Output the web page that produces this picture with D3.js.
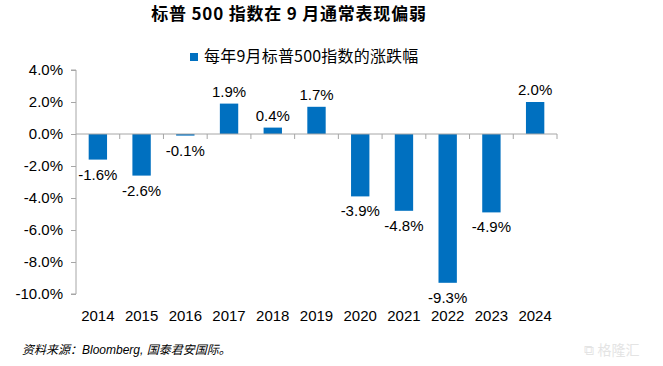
<!DOCTYPE html>
<html>
<head>
<meta charset="utf-8">
<script src="https://cdn.jsdelivr.net/npm/d3@7"></script>
<style>
  body { margin: 0; background: #fff; }
  svg { display: block; font-family: "Liberation Sans", Arial, sans-serif; }
</style>
</head>
<body>
<svg width="663" height="366"></svg>
<script>
// Data
const years = ['2014', '2015', '2016', '2017', '2018', '2019', '2020', '2021', '2022', '2023', '2024'];
const changes = [-1.6, -2.6, -0.1, 1.9, 0.4, 1.7, -3.9, -4.8, -9.3, -4.9, 2.0];
const yTicks = [4, 2, 0, -2, -4, -6, -8, -10];

const svg = d3.select('svg');
const barColor = '#0070C0';
const cjk = '"Noto Sans CJK SC", sans-serif';

const x = d3.scaleBand().domain(years).range([76, 557]).paddingInner(0.58).paddingOuter(0.29);
const xEdge = d3.scaleLinear().domain([0, years.length]).range([76, 557]);
const y = d3.scaleLinear().domain([-10, 4]).range([294, 70]);

// Title
svg.append('text')
  .attr('x', 289).attr('y', 20)
  .attr('text-anchor', 'middle')
  .style('font-family', cjk)
  .style('font-weight', 'bold')
  .style('font-size', '17px')
  .style('letter-spacing', '0.8px')
  .text('标普 500 指数在 9 月通常表现偏弱');

// Legend
svg.append('rect')
  .attr('x', 190).attr('y', 53).attr('width', 8).attr('height', 8)
  .attr('fill', barColor);
svg.append('text')
  .attr('x', 204).attr('y', 62)
  .style('font-family', cjk)
  .style('font-size', '16px')
  .style('letter-spacing', '0.2px')
  .text('每年9月标普500指数的涨跌幅');

// Y axis
const yAxis = d3.axisLeft(y)
  .tickValues(yTicks)
  .tickSize(5)
  .tickFormat((d) => `${d.toFixed(1)}%`);
const gy = svg.append('g').attr('transform', 'translate(76,0)').call(yAxis);
gy.select('.domain').attr('stroke', '#a6a6a6').attr('d', `M-5,${y(4)}H0V${y(-10)}H-5`);
gy.selectAll('.tick line').attr('stroke', '#a6a6a6');
gy.selectAll('.tick text')
  .attr('x', -13)
  .attr('fill', '#000')
  .style('font-size', '15px')
  .style('font-family', '"Liberation Sans", Arial, sans-serif');

// Bars
svg.selectAll('.bar')
  .data(changes)
  .enter()
  .append('rect')
  .attr('class', 'bar')
  .attr('x', (d, i) => x(years[i]))
  .attr('width', x.bandwidth())
  .attr('y', (d) => y(Math.max(0, d)))
  .attr('height', (d) => Math.abs(y(d) - y(0)))
  .attr('fill', barColor);

// Zero line with category ticks
svg.append('line')
  .attr('x1', 76).attr('x2', 557)
  .attr('y1', y(0)).attr('y2', y(0))
  .attr('stroke', '#a6a6a6');
svg.selectAll('.cat-tick')
  .data(d3.range(1, years.length + 1))
  .enter()
  .append('line')
  .attr('x1', (d) => xEdge(d)).attr('x2', (d) => xEdge(d))
  .attr('y1', y(0)).attr('y2', y(0) + 5)
  .attr('stroke', '#a6a6a6');

// Value labels
svg.selectAll('.val')
  .data(changes)
  .enter()
  .append('text')
  .attr('x', (d, i) => x(years[i]) + x.bandwidth() / 2)
  .attr('y', (d) => (d >= 0 ? y(d) - 7 : y(d) + 20))
  .attr('text-anchor', 'middle')
  .style('font-size', '15px')
  .text((d) => `${d.toFixed(1)}%`);

// Category labels
svg.selectAll('.yr')
  .data(years)
  .enter()
  .append('text')
  .attr('x', (d) => x(d) + x.bandwidth() / 2)
  .attr('y', 321)
  .attr('text-anchor', 'middle')
  .style('font-size', '15px')
  .text((d) => d);

// Source note
svg.append('text')
  .attr('x', 22).attr('y', 354)
  .style('font-size', '12px')
  .style('font-style', 'italic')
  .style('font-family', `"Liberation Sans", ${cjk}`)
  .text('资料来源：Bloomberg, 国泰君安国际。');

// Watermark
svg.append('text')
  .attr('x', 612).attr('y', 355)
  .attr('text-anchor', 'middle')
  .attr('fill', '#e4e4e4')
  .style('font-family', cjk)
  .style('font-size', '14px')
  .text('⧉ 格隆汇');
</script>
</body>
</html>
